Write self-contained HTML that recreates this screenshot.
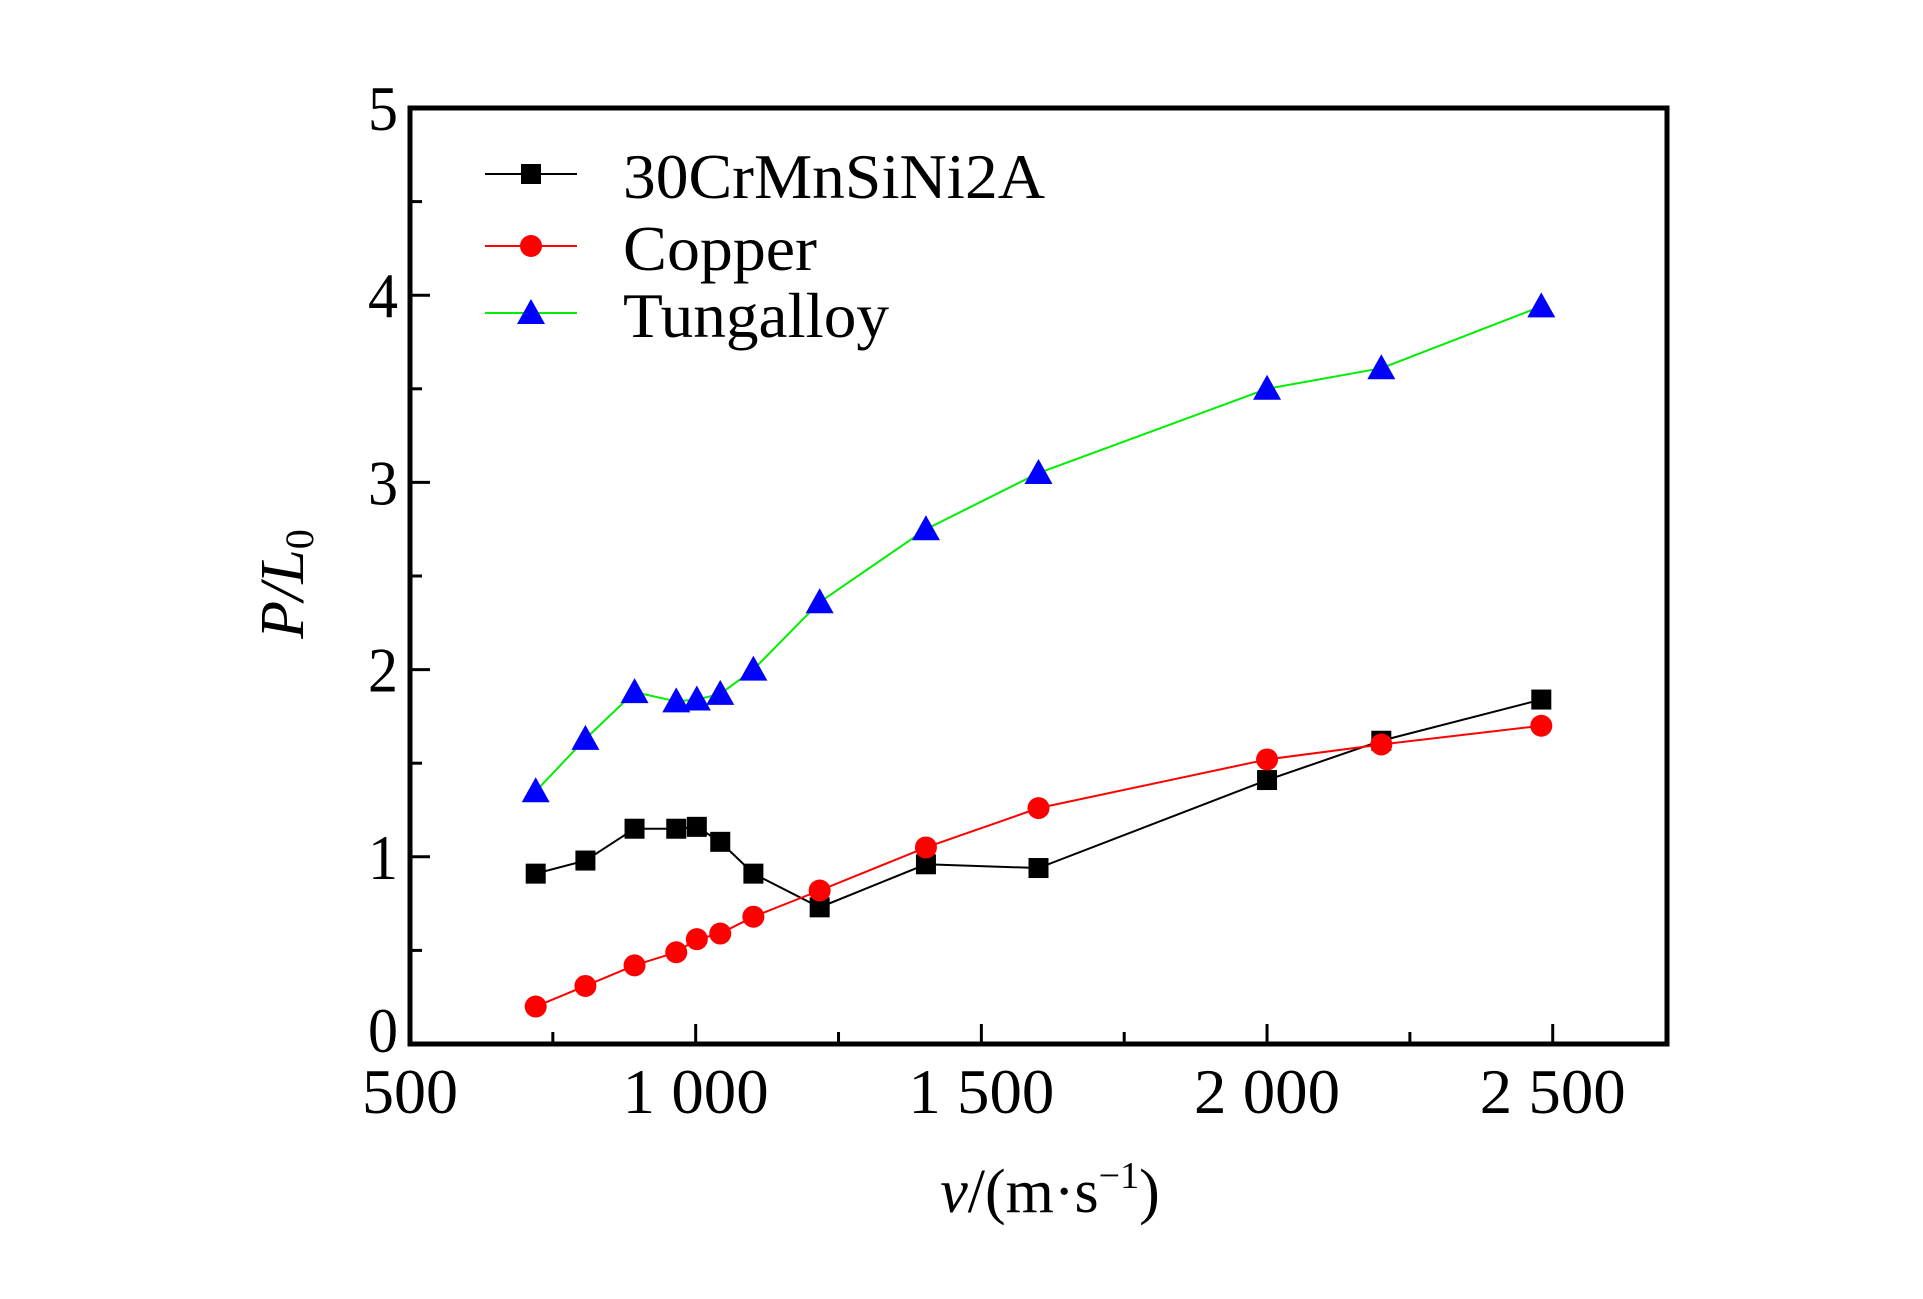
<!DOCTYPE html>
<html><head><meta charset="utf-8"><style>
html,body{margin:0;padding:0;background:#fff;}
svg{display:block;}
text{font-family:"Liberation Serif",serif;fill:#000;}
</style></head><body>
<svg id="chart" width="1923" height="1299" viewBox="0 0 1923 1299" xmlns="http://www.w3.org/2000/svg">
<rect x="0" y="0" width="1923" height="1299" fill="#fff"/>
<g id="marks"></g>
<rect x="410" y="108" width="1257" height="936" fill="none" stroke="#000" stroke-width="5"/>
<g id="axes"></g>
<text x="283" y="584" font-size="62" font-style="italic" text-anchor="middle" transform="rotate(-90 283 584)" dy="20">P/L<tspan font-size="40" dy="10" font-style="normal">0</tspan></text>
<text x="1050" y="1212" font-size="62" text-anchor="middle"><tspan font-style="italic">v</tspan>/(m·s<tspan font-size="38" dy="-24">−1</tspan><tspan dy="24">)</tspan></text>
<g id="legend"></g>
</svg>
<script>
const velocities = [720, 807, 893, 966, 1002, 1043, 1101, 1217, 1403, 1600, 2000, 2200, 2480];
const steelValues = [0.91, 0.98, 1.15, 1.15, 1.16, 1.08, 0.91, 0.73, 0.96, 0.94, 1.41, 1.62, 1.84];
const copperValues = [0.20, 0.31, 0.42, 0.49, 0.56, 0.59, 0.68, 0.82, 1.05, 1.26, 1.52, 1.60, 1.70];
const tungValues = [1.35, 1.63, 1.88, 1.83, 1.84, 1.87, 2.00, 2.36, 2.75, 3.05, 3.50, 3.61, 3.94];
const xTicks = [500, 1000, 1500, 2000, 2500];
const xTickLabels = ["500", "1 000", "1 500", "2 000", "2 500"];
const yTicks = [0, 1, 2, 3, 4, 5];
const yTickLabels = ["0", "1", "2", "3", "4", "5"];
const seriesNames = ["30CrMnSiNi2A", "Copper", "Tungalloy"];

const NS = "http://www.w3.org/2000/svg";
const X0 = 410, X1 = 1667, Y0 = 1044, Y1 = 108;
const xMin = 500, xMax = 2700, yMin = 0, yMax = 5;
function sx(v){ return X0 + (v - xMin) / (xMax - xMin) * (X1 - X0); }
function sy(v){ return Y0 - (v - yMin) / (yMax - yMin) * (Y0 - Y1); }
function mk(tag, attrs, parent){
  const e = document.createElementNS(NS, tag);
  for (const k in attrs) e.setAttribute(k, attrs[k]);
  parent.appendChild(e); return e;
}
const axes = document.getElementById('axes');
const marks = document.getElementById('marks');
const legend = document.getElementById('legend');

for (let v = 500; v <= 2700; v += 250) {
  const major = (v % 500 === 0);
  const t = mk('line', {x1: sx(v), x2: sx(v), y1: Y0, y2: Y0 - (major ? 20 : 12), stroke: '#000', 'stroke-width': 3}, axes);
  
  
}
xTicks.forEach((v, i) => {
  const t = mk('text', {x: sx(v), y: 1113, 'font-size': 64, 'text-anchor': 'middle', textLength: xTickLabels[i].length > 3 ? 146 : 96, lengthAdjust: 'spacingAndGlyphs'}, axes);
  t.textContent = xTickLabels[i];
  
  
});
for (let v = 0; v <= 5; v += 0.5) {
  const major = Number.isInteger(v);
  const t = mk('line', {x1: X0, x2: X0 + (major ? 20 : 12), y1: sy(v), y2: sy(v), stroke: '#000', 'stroke-width': 3}, axes);
  
  
}
yTicks.forEach((v, i) => {
  const t = mk('text', {x: 398, y: sy(v) + 22 - (v === 0 ? 14 : 0), 'font-size': 64, 'text-anchor': 'end', textLength: 30, lengthAdjust: 'spacingAndGlyphs'}, axes);
  t.textContent = yTickLabels[i];
  
  
});

function marker(type, cx, cy, color, parent){
  let e;
  if (type === 'square') e = mk('rect', {x: cx - 10, y: cy - 10, width: 20, height: 20, fill: color}, parent);
  else if (type === 'circle') e = mk('circle', {cx: cx, cy: cy, r: 11, fill: color}, parent);
  else e = mk('polygon', {points: `${cx},${cy-14} ${cx+14},${cy+11} ${cx-14},${cy+11}`, fill: color}, parent);
  return e;
}
const series = [
  {vals: steelValues, line: '#000', fill: '#000', m: 'square', key: 'steel'},
  {vals: copperValues, line: '#ff0000', fill: '#ff0000', m: 'circle', key: 'copper'},
  {vals: tungValues, line: '#00ee00', fill: '#0000ff', m: 'triangle', key: 'tungalloy'}
];
series.forEach(s => {
  const pts = velocities.map((v, i) => sx(v) + ',' + sy(s.vals[i])).join(' ');
  const l = mk('polyline', {points: pts, fill: 'none', stroke: s.line, 'stroke-width': 2}, marks);
  
  
  velocities.forEach((v, i) => {
    const p = marker(s.m, sx(v), sy(s.vals[i]), s.fill, marks);
    
    
  });
});
const legY = [174, 246, 313];
const legW = [422, 194, 266];
series.forEach((s, i) => {
  const g = mk('g', {}, legend);
  
  
  const ln = mk('line', {x1: 485, x2: 577, y1: legY[i], y2: legY[i], stroke: s.line, 'stroke-width': 2}, g);
  
  
  const m = marker(s.m, 531, legY[i], s.fill, g);
  
  
  const t = mk('text', {x: 623, y: legY[i] + 24, 'font-size': 64, textLength: legW[i], lengthAdjust: 'spacingAndGlyphs'}, g);
  t.textContent = seriesNames[i];
  
  
});
</script>
</body></html>
